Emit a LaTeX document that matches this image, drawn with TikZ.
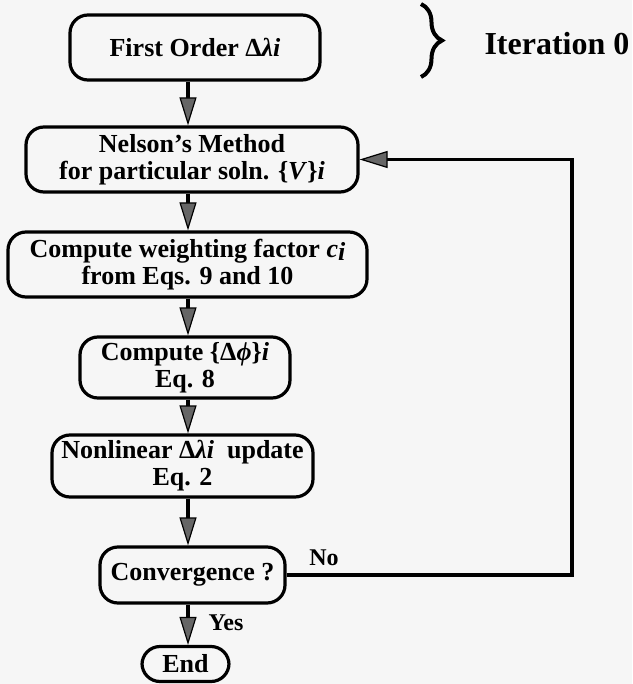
\documentclass[tikz,border=0pt]{standalone}
\usepackage{fontspec}
\setmainfont{Liberation Serif}
\usetikzlibrary{arrows.meta,decorations.pathreplacing}
\definecolor{paper}{RGB}{246,246,246}

\begin{document}
\begin{tikzpicture}[
  x=1pt, y=-1pt,
  stepbox/.style={draw, line width=3.2pt, rounded corners=18pt, align=center,
    inner sep=0pt, font=\fontsize{26}{27}\selectfont\bfseries},
  flow/.style={line width=3.4pt, -{Triangle[length=28pt,width=17pt,fill=black!60,line width=1.2pt]}},
  lbl/.style={font=\fontsize{24}{24}\selectfont\bfseries},
]

\fill [paper] (0,0) rectangle (632,684);
\useasboundingbox (0,0) rectangle (632,684);

\node [stepbox, minimum width=250pt, minimum height=65pt] (first) at (195,47.5)
  {First Order Δ\textit{λi}};
\node [stepbox, minimum width=332pt, minimum height=65pt] (nelson) at (192,159.5)
  {Nelson's Method\\for particular soln. \{\textit{V}\}\textit{i}};
\node [stepbox, minimum width=359pt, minimum height=65pt] (weight) at (187.5,264.5)
  {Compute weighting factor \textit{c}\lower3pt\hbox{\textit{i}}\\from Eqs. 9 and 10};
\node [stepbox, minimum width=210pt, minimum height=61pt] (dphi) at (185,367.5)
  {Compute \{Δ\textit{ϕ}\}\textit{i}\\Eq. 8};
\node [stepbox, minimum width=261pt, minimum height=62pt] (nonlin) at (182.5,466)
  {Nonlinear Δ\textit{λi}\ \ update\\Eq. 2};
\node [stepbox, minimum width=185pt, minimum height=56pt] (conv) at (192.5,575)
  {Convergence ?};
\node [stepbox, minimum width=87pt, minimum height=35pt] (end) at (185.5,664)
  {End};

\coordinate (axis) at (188,0);
\coordinate (loop) at (572,0);

\draw [flow] (first.south -| axis) -- (nelson.north -| axis);
\draw [flow] (nelson.south -| axis) -- (weight.north -| axis);
\draw [flow] (weight.south -| axis) -- (dphi.north -| axis);
\draw [flow] (dphi.south -| axis) -- (nonlin.north -| axis);
\draw [flow] (nonlin.south -| axis) -- (conv.north -| axis);
\draw [flow] (conv.south -| axis) -- (end.north -| axis);
\draw [flow] (conv.east) -- (conv.east -| loop) |- (nelson.east);

\node [lbl] (no) at (324,558) {No};
\node [lbl] (yes) at (226,623) {Yes};

\draw [decorate, decoration={brace, amplitude=21pt}, line width=4pt] (421,4) -- (421,77);
\node [font=\fontsize{32}{32}\selectfont\bfseries, anchor=west] (iter) at (481,44) {Iteration 0};

\end{tikzpicture}
\end{document}
